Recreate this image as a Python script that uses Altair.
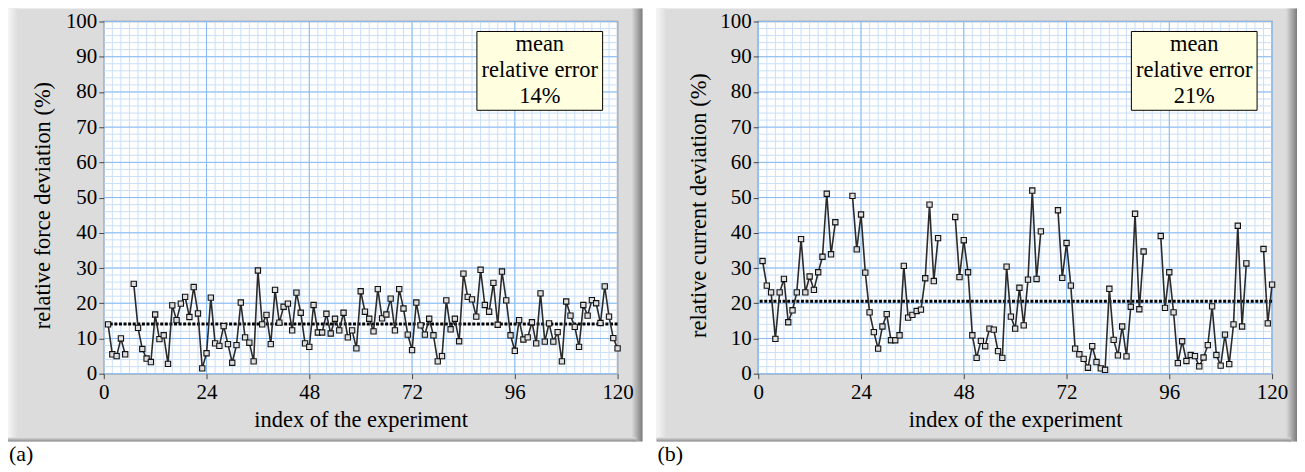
import altair as alt
import pandas as pd

# ---------------- data ----------------
idx = list(range(1, 121))

force_dev = [14, 5.5, 5, 10, 5.5, None, 25.5, 13, 7, 4.3,
             3.3, 16.8, 9.8, 10.9, 2.8, 19.4, 15.2, 19.9, 21.8, 16.1,
             24.6, 17.1, 1.5, 5.8, 21.6, 8.6, 7.9, 13.5, 8.4, 3.1,
             8.1, 20.2, 10.3, 8.8, 3.5, 29.3, 14.0, 16.7, 8.4, 23.8,
             14.5, 19.0, 19.9, 12.3, 23.0, 17.3, 8.6, 7.6, 19.5, 11.7,
             11.7, 17.0, 11.4, 15.6, 12.3, 17.3, 10.3, 12.3, 7.2, 23.4,
             17.6, 15.6, 12.0, 24.0, 15.7, 16.8, 21.3, 12.3, 24.0, 18.5,
             11.1, 6.7, 20.2, 13.7, 11.1, 15.6, 10.9, 3.5, 5.0, 20.8,
             12.6, 15.6, 9.2, 28.4, 21.8, 21.1, 16.2, 29.5, 19.5, 17.6,
             25.8, 13.9, 29.0, 20.8, 10.9, 6.5, 15.2, 9.7, 10.3, 14.6,
             8.6, 22.8, 9.1, 14.3, 9.1, 11.8, 3.5, 20.5, 16.5, 13.3,
             7.6, 19.5, 16.5, 20.9, 20.0, 14.4, 24.8, 16.2, 10.1, 7.2]

current_dev = [32.0, 25.0, 23.1, 9.9, 23.1, 26.9, 14.6, 18.0, 23.1, 38.2,
               23.1, 27.6, 23.8, 28.8, 33.2, 51.1, 33.9, 43.0, None, None,
               None, 50.5, 35.3, 45.2, 28.7, 17.4, 11.8, 7.1, 13.4, 16.9,
               9.5, 9.5, 10.9, 30.6, 15.9, 16.7, 17.8, 18.2, 27.1, 48.0,
               26.3, 38.5, None, None, None, 44.5, 27.4, 37.9, 28.8, 10.9,
               4.5, 9.3, 7.8, 12.8, 12.5, 6.4, 4.5, 30.4, 16.2, 12.8,
               24.4, 13.7, 26.7, 52.0, 26.9, 40.4, None, None, None, 46.4,
               27.2, 37.1, 25.0, 7.1, 5.5, 4.2, 1.7, 7.8, 3.3, 1.5,
               1.1, 24.1, 9.6, 5.2, 13.4, 4.9, 19.0, 45.4, 18.3, 34.7,
               None, None, None, 39.1, 18.7, 28.8, 17.4, 3.0, 9.2, 3.6,
               5.3, 5.0, 2.1, 4.6, 8.1, 19.1, 5.3, 2.3, 11.1, 2.7,
               14.0, 42.0, 13.4, 31.3, None, None, None, 35.4, 14.3, 25.3]

mean_force = 14.1
mean_current = 20.6

x_ticks = [0, 24, 48, 72, 96, 120]
y_ticks = list(range(0, 101, 10))
x_minor = list(range(0, 121, 2))
y_minor = list(range(0, 101, 2))

x_title = "index of the experiment"
y_title_a = "relative force deviation (%)"
y_title_b = "relative current deviation (%)"
box_a = ["mean", "relative error", "14%"]
box_b = ["mean", "relative error", "21%"]

# ---------------- style ----------------
FONT = "Liberation Serif"
W, H = 515, 353
FRAME = "#dcdcdc"
MAJOR = "#88bbf2"
MINOR = "#cadff8"

one = pd.DataFrame({"k": [0]})


def panel(vals, mean, ytitle, box_lines, frame_left, letter, ytitle_x):
    seg, s = [], 0
    for v in vals:
        if v is None:
            s += 1
        seg.append(s)
    df = pd.DataFrame({"idx": idx, "val": vals, "seg": seg}).dropna()

    xscale = alt.Scale(domain=[0, 120], nice=False, zero=False)
    yscale = alt.Scale(domain=[0, 100], nice=False)
    xaxis = alt.Axis(values=x_ticks, title=x_title, grid=False, domain=False,
                     labelFlush=False, tickSize=5, labelPadding=3,
                     titlePadding=6, zindex=1)
    yaxis = alt.Axis(values=y_ticks, title=ytitle, grid=False, domain=False,
                     labelFlush=False, tickSize=5, labelPadding=2,
                     titleX=ytitle_x, titleY=184, titleAngle=270,
                     titleBaseline="middle", titleAlign="center", zindex=1)

    def X(f):
        return alt.X(f"{f}:Q", scale=xscale, axis=xaxis)

    def Y(f):
        return alt.Y(f"{f}:Q", scale=yscale, axis=yaxis)

    fr_r, fr_t, fr_b = 540, -13, 421
    frame = alt.Chart(one).mark_rect(fill=FRAME).encode(
        x=alt.value(frame_left), x2=alt.value(fr_r),
        y=alt.value(fr_t), y2=alt.value(fr_b))
    left_hl = alt.Chart(one).mark_rect(
        fill=alt.LinearGradient(gradient="linear", x1=0, x2=1, y1=0, y2=0,
                                stops=[alt.GradientStop(color="#f6f6f6", offset=0),
                                       alt.GradientStop(color=FRAME, offset=1)])
    ).encode(x=alt.value(frame_left), x2=alt.value(frame_left + 10),
             y=alt.value(fr_t), y2=alt.value(fr_b))
    right_sh = alt.Chart(one).mark_rect(
        fill=alt.LinearGradient(gradient="linear", x1=0, x2=1, y1=0, y2=0,
                                stops=[alt.GradientStop(color=FRAME, offset=0),
                                       alt.GradientStop(color="#7c7c7c", offset=1)])
    ).encode(x=alt.value(fr_r - 11), x2=alt.value(fr_r),
             y=alt.value(fr_t), y2=alt.value(fr_b))
    bottom_sh = alt.Chart(one).mark_rect(
        fill=alt.LinearGradient(gradient="linear", x1=0, x2=0, y1=0, y2=1,
                                stops=[alt.GradientStop(color=FRAME, offset=0),
                                       alt.GradientStop(color="#8a8a8a", offset=1)])
    ).encode(x=alt.value(frame_left), x2=alt.value(fr_r - 6),
             y=alt.value(fr_b - 4), y2=alt.value(fr_b))
    plot_bg = alt.Chart(one).mark_rect(fill="white", stroke="#8a8a8a",
                                       strokeWidth=1.5).encode(
        x=alt.value(0), x2=alt.value(W), y=alt.value(0), y2=alt.value(H))

    gx_min = alt.Chart(pd.DataFrame({"g": x_minor})).mark_rule(
        color=MINOR, strokeWidth=1).encode(x=X("g"))
    gy_min = alt.Chart(pd.DataFrame({"g": y_minor})).mark_rule(
        color=MINOR, strokeWidth=1).encode(y=Y("g"))
    gx_maj = alt.Chart(pd.DataFrame({"g": x_ticks})).mark_rule(
        color=MAJOR, strokeWidth=1).encode(x=X("g"))
    gy_maj = alt.Chart(pd.DataFrame({"g": y_ticks})).mark_rule(
        color=MAJOR, strokeWidth=1).encode(y=Y("g"))

    mean_rule = alt.Chart(pd.DataFrame({"m": [mean]})).mark_rule(
        color="black", strokeWidth=3, strokeDash=[3, 1.6]).encode(y=Y("m"))

    line = alt.Chart(df).mark_line(color="#2b2b2b", strokeWidth=1.6).encode(
        x=X("idx"), y=Y("val"), detail="seg:N", order="idx:Q")
    pts = alt.Chart(df).mark_point(shape="square", size=28, filled=True,
                                   fill="#dedede", stroke="#111",
                                   strokeWidth=1.1, opacity=1).encode(
        x=X("idx"), y=Y("val"))

    box = alt.Chart(one).mark_rect(fill="#ffffe0", stroke="black",
                                   strokeWidth=1).encode(
        x=alt.value(374), x2=alt.value(500), y=alt.value(10), y2=alt.value(89))
    box_txt = alt.Chart(one).mark_text(
        text=box_lines, lineHeight=26, font=FONT, fontSize=22.5,
        align="center", baseline="middle", color="black").encode(
        x=alt.value(437), y=alt.value(23))

    lab = alt.Chart(one).mark_text(
        text=letter, font=FONT, fontSize=22, align="left",
        baseline="middle", color="black").encode(
        x=alt.value(frame_left + 1), y=alt.value(434))

    return alt.layer(frame, left_hl, right_sh, bottom_sh, plot_bg,
                     gx_min, gy_min, gx_maj, gy_maj, mean_rule,
                     line, pts, box, box_txt, lab).properties(width=W, height=H)


pa = panel(force_dev, mean_force, y_title_a, box_a, -96, "(a)", -61)
pb = panel(current_dev, mean_current, y_title_b, box_b, -102, "(b)", -60)

chart = alt.hconcat(pa, pb, spacing=14).properties(
    padding={"left": 0, "top": 0, "right": 0, "bottom": 0},
    background="white"
).configure_view(strokeWidth=0).configure_axis(
    labelFont=FONT, titleFont=FONT, labelFontSize=21, titleFontSize=22.5,
    labelColor="black", titleColor="black", titleFontWeight="normal",
    tickColor="#444", tickWidth=1
)

chart.save("out.html", embed_options={"renderer": "svg", "actions": False})
